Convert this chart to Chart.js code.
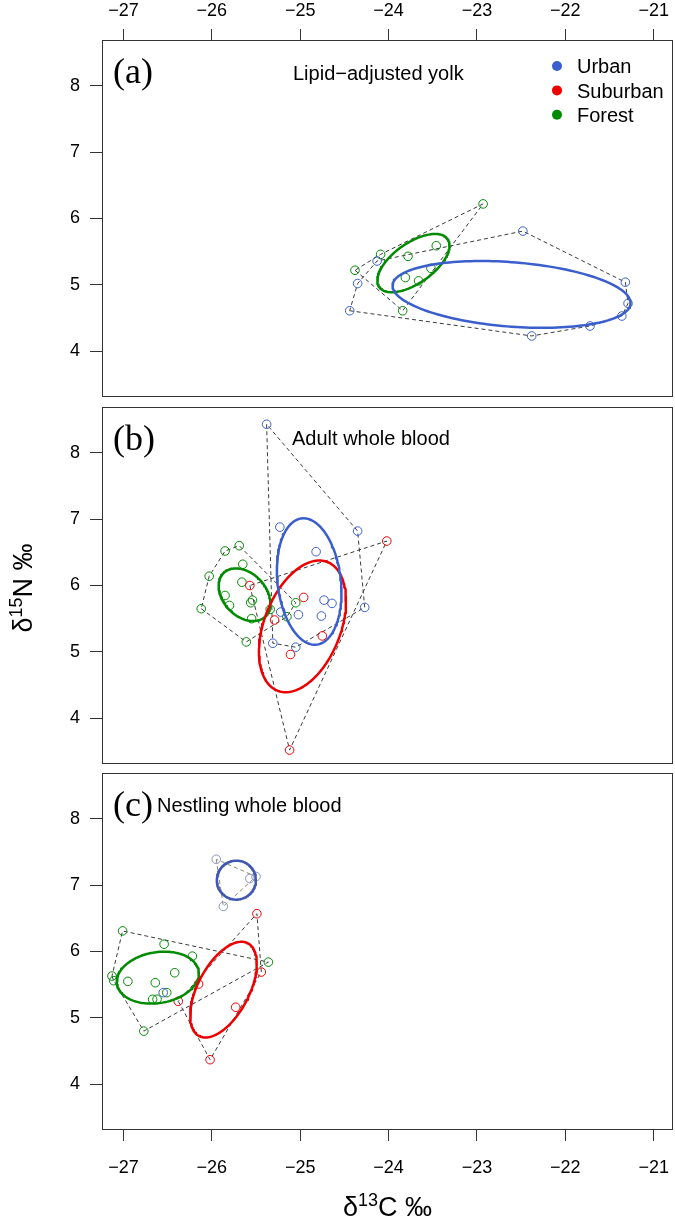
<!DOCTYPE html>
<html><head><meta charset="utf-8">
<script src="https://cdn.jsdelivr.net/npm/chart.js@4.4.1/dist/chart.umd.min.js"></script>
<style>
html,body{margin:0;padding:0;background:#fff;}
#wrap{position:relative;width:675px;height:1217px;overflow:hidden;background:#fff;}
canvas{position:absolute;left:0;}
</style></head><body>
<div id="wrap">
<canvas id="cA" width="675" height="400" style="top:0px"></canvas>
<canvas id="cB" width="675" height="363" style="top:404px"></canvas>
<canvas id="cC" width="675" height="447" style="top:770px"></canvas>
</div>
<script>
// ---------- tick labels & categories ----------
const xTicks = [-27, -26, -25, -24, -23, -22, -21];
const yTicks = [4, 5, 6, 7, 8];
const groups = ['Urban', 'Suburban', 'Forest'];
const panelLetters = ['(a)', '(b)', '(c)'];
const panelTitles = ['Lipid\u2212adjusted yolk', 'Adult whole blood', 'Nestling whole blood'];

// ---------- (a) lipid-adjusted yolk ----------
const yolkUrbanC  = [-22.48, -21.32, -21.29, -21.36, -21.72, -22.38, -24.44, -24.35, -24.13];
const yolkUrbanN  = [5.81, 5.04, 4.72, 4.53, 4.38, 4.23, 4.61, 5.02, 5.36];
const yolkForestC = [-22.93, -23.46, -23.78, -24.09, -24.38, -23.52, -23.81, -23.66, -23.84];
const yolkForestN = [6.22, 5.59, 5.43, 5.46, 5.22, 5.25, 5.11, 5.06, 4.61];

// ---------- (b) adult whole blood ----------
const adultUrbanC    = [-25.38, -25.23, -24.35, -24.82, -24.27, -24.73, -24.64, -24.76, -25.02, -25.22, -25.31, -25.05];
const adultUrbanN    = [8.43, 6.88, 6.82, 6.51, 5.67, 5.78, 5.73, 5.54, 5.56, 5.60, 5.13, 5.07];
const adultSuburbanC = [-24.02, -24.96, -25.57, -25.29, -24.75, -25.11, -25.12];
const adultSuburbanN = [6.67, 5.82, 6.00, 5.48, 5.24, 4.96, 3.52];
const adultForestC   = [-25.69, -25.85, -25.65, -26.03, -25.66, -25.85, -25.80, -25.54, -25.56, -25.34, -25.05, -25.15, -25.55, -26.12, -25.61];
const adultForestN   = [6.60, 6.52, 6.32, 6.14, 6.05, 5.85, 5.70, 5.78, 5.74, 5.64, 5.74, 5.53, 5.50, 5.65, 5.15];

// ---------- (c) nestling whole blood ----------
const nestUrbanC    = [-25.95, -25.57, -25.50, -25.87];
const nestUrbanN    = [7.39, 7.10, 7.13, 6.68];
const nestUrbanExtraC = [-26.55];
const nestUrbanExtraN = [5.38];
const nestSuburbanC = [-25.49, -25.44, -26.15, -26.38, -25.73, -26.02];
const nestSuburbanN = [6.57, 5.69, 5.51, 5.25, 5.16, 4.37];
const nestForestC   = [-27.01, -26.54, -26.22, -25.36, -26.42, -27.13, -27.11, -26.95, -26.64, -26.51, -26.67, -26.62, -26.77];
const nestForestN   = [6.31, 6.11, 5.93, 5.84, 5.68, 5.63, 5.56, 5.55, 5.53, 5.38, 5.28, 5.28, 4.80];

// ---------- styles ----------
const COL = { Urban: '#3a5fcd', Suburban: '#ee0000', Forest: '#008b00' };
const FONT = '"Liberation Sans", Arial, Helvetica, sans-serif';
const SERIF = '"Liberation Serif", "Times New Roman", serif';
const X_MIN = -27.243, X_MAX = -20.781, Y_MIN = 3.31, Y_MAX = 8.69;

function pts(cs, ns) { return cs.map((c, i) => ({ x: c, y: ns[i] })); }
function hull(p) {
  const s = p.slice().sort((a, b) => a.x - b.x || a.y - b.y);
  const cr = (o, a, b) => (a.x - o.x) * (b.y - o.y) - (a.y - o.y) * (b.x - o.x);
  const lo = [], up = [];
  for (const q of s) { while (lo.length >= 2 && cr(lo[lo.length - 2], lo[lo.length - 1], q) <= 0) lo.pop(); lo.push(q); }
  for (let i = s.length - 1; i >= 0; i--) { const q = s[i]; while (up.length >= 2 && cr(up[up.length - 2], up[up.length - 1], q) <= 0) up.pop(); up.push(q); }
  up.pop(); lo.pop();
  const h = lo.concat(up); h.push(h[0]); return h;
}
function ellipse(p) {
  const n = p.length;
  const mx = p.reduce((s, q) => s + q.x, 0) / n, my = p.reduce((s, q) => s + q.y, 0) / n;
  let sxx = 0, syy = 0, sxy = 0;
  p.forEach(q => { sxx += (q.x - mx) ** 2; syy += (q.y - my) ** 2; sxy += (q.x - mx) * (q.y - my); });
  sxx /= (n - 1); syy /= (n - 1); sxy /= (n - 1);
  const l11 = Math.sqrt(sxx), l21 = sxy / l11, l22 = Math.sqrt(Math.max(syy - l21 * l21, 0));
  const out = [];
  for (let k = 0; k <= 162; k++) {
    const t = 2 * Math.PI * k / 160;
    out.push({ x: mx + l11 * Math.cos(t), y: my + l21 * Math.cos(t) + l22 * Math.sin(t) });
  }
  return out;
}

function groupSets(g) {
  const p = pts(g.c, g.n);
  return [
    { label: g.name + ' ellipse', data: ellipse(p), showLine: true, borderColor: g.ell || COL[g.name], borderWidth: 2.5, borderCapStyle: 'round', borderJoinStyle: 'round', pointRadius: 0, fill: false, tension: 0, order: 0 },
    { label: g.name, data: p, showLine: false, borderColor: g.pt || COL[g.name], backgroundColor: 'rgba(0,0,0,0)', pointRadius: 4.3, pointBorderWidth: 1, pointStyle: 'circle', order: 1 },
    { label: g.name + ' hull', data: hull(p), showLine: true, borderColor: g.hull || '#3a3a3a', borderWidth: 1, borderDash: [4, 3], pointRadius: 0, fill: false, tension: 0, order: 2 }
  ];
}

function fmt(v) { return String(v).replace('-', '\u2212'); }

function drawSup(ctx, parts, cx, y) {
  let total = 0;
  parts.forEach(p => { ctx.font = p.size + 'px ' + FONT; p.w = ctx.measureText(p.t).width; total += p.w; });
  let x = cx - total / 2;
  ctx.textAlign = 'left'; ctx.textBaseline = 'alphabetic';
  parts.forEach(p => { ctx.font = p.size + 'px ' + FONT; ctx.fillText(p.t, x, y - (p.dy || 0)); x += p.w; });
}

const deco = {
  id: 'deco',
  afterDraw(chart, args, o) {
    const ctx = chart.ctx, a = chart.chartArea;
    ctx.save();
    ctx.strokeStyle = '#333'; ctx.lineWidth = 1;
    ctx.strokeRect(Math.round(a.left) + 0.5, Math.round(a.top) + 0.5, Math.round(a.right - a.left) - 1, Math.round(a.bottom - a.top) - 1);
    ctx.fillStyle = '#000';
    ctx.textAlign = 'left'; ctx.textBaseline = 'alphabetic';
    ctx.font = '36px ' + SERIF;
    ctx.fillText(o.letter, 113, a.top + 43);
    ctx.font = '20px ' + FONT;
    ctx.fillText(o.title, o.titleX, a.top + o.titleDy);
    if (o.legend) {
      groups.forEach((g, i) => {
        ctx.fillStyle = COL[g];
        ctx.beginPath(); ctx.arc(557, a.top + 26 + i * 24.4, 5, 0, 2 * Math.PI); ctx.fill();
        ctx.fillStyle = '#000';
        ctx.fillText(g, 577, a.top + 33.3 + i * 24.4);
      });
    }
    if (o.yTitle) {
      ctx.save(); ctx.translate(32, 184); ctx.rotate(-Math.PI / 2);
      drawSup(ctx, [{ t: '\u03b4', size: 27 }, { t: '15', size: 18, dy: 10 }, { t: 'N \u2030', size: 27 }], 0, 0);
      ctx.restore();
    }
    if (o.xTitle) {
      drawSup(ctx, [{ t: '\u03b4', size: 27 }, { t: '13', size: 18, dy: 10 }, { t: 'C \u2030', size: 27 }], (a.left + a.right) / 2, 446);
    }
    ctx.restore();
  }
};

function noPad(s) { s.paddingTop = 0; s.paddingBottom = 0; s.paddingLeft = 0; s.paddingRight = 0; }

function makeChart(id, datasets, xPos, xShow, pad, xH, decoOpts) {
  return new Chart(document.getElementById(id), {
    type: 'scatter',
    data: { datasets },
    plugins: [deco],
    options: {
      responsive: false, animation: false, events: [],
      layout: { padding: pad, autoPadding: false },
      plugins: { legend: { display: false }, tooltip: { enabled: false }, deco: decoOpts },
      scales: {
        x: {
          type: 'linear', min: X_MIN, max: X_MAX, position: xPos, display: xShow,
          afterBuildTicks: s => { s.ticks = xTicks.map(v => ({ value: v })); },
          afterFit: s => { if (xH) s.height = xH; noPad(s); },
          grid: { display: true, drawOnChartArea: false, drawTicks: true, tickLength: 11, color: '#333', lineWidth: 1 },
          border: { display: false },
          ticks: { callback: v => fmt(v), color: '#000', font: { family: FONT, size: 18 }, padding: xPos === 'top' ? 7 : 16, maxRotation: 0, autoSkip: false }
        },
        y: {
          type: 'linear', min: Y_MIN, max: Y_MAX, position: 'left',
          afterBuildTicks: s => { s.ticks = yTicks.map(v => ({ value: v })); },
          afterFit: s => { s.width = 102; noPad(s); },
          grid: { display: true, drawOnChartArea: false, drawTicks: true, tickLength: 12, color: '#333', lineWidth: 1 },
          border: { display: false },
          ticks: { callback: v => fmt(v), color: '#000', font: { family: FONT, size: 18 }, padding: 10, autoSkip: false }
        }
      }
    }
  });
}

const dsA = [
  ...groupSets({ name: 'Urban', c: yolkUrbanC, n: yolkUrbanN }),
  ...groupSets({ name: 'Forest', c: yolkForestC, n: yolkForestN })
];
const dsB = [
  ...groupSets({ name: 'Urban', c: adultUrbanC, n: adultUrbanN }),
  ...groupSets({ name: 'Suburban', c: adultSuburbanC, n: adultSuburbanN }),
  ...groupSets({ name: 'Forest', c: adultForestC, n: adultForestN })
];
const dsC = [
  ...groupSets({ name: 'Urban', c: nestUrbanC, n: nestUrbanN, pt: '#8a93c2', ell: '#3f56b2', hull: '#8c8c6a' }),
  { label: 'Urban extra', data: pts(nestUrbanExtraC, nestUrbanExtraN), showLine: false, borderColor: COL.Urban, backgroundColor: 'rgba(0,0,0,0)', pointRadius: 4.3, pointBorderWidth: 1, order: 1 },
  ...groupSets({ name: 'Suburban', c: nestSuburbanC, n: nestSuburbanN }),
  ...groupSets({ name: 'Forest', c: nestForestC, n: nestForestN })
];

makeChart('cA', dsA, 'top', true, { left: 0, right: 2, top: 0, bottom: 3 }, 40,
  { letter: panelLetters[0], title: panelTitles[0], titleX: 293, titleDy: 40, legend: true });
makeChart('cB', dsB, 'bottom', false, { left: 0, right: 2, top: 3, bottom: 3 }, 0,
  { letter: panelLetters[1], title: panelTitles[1], titleX: 292, titleDy: 38, yTitle: true });
makeChart('cC', dsC, 'bottom', true, { left: 0, right: 2, top: 3, bottom: 0 }, 87,
  { letter: panelLetters[2], title: panelTitles[2], titleX: 157, titleDy: 39, xTitle: true });
</script>
</body></html>
